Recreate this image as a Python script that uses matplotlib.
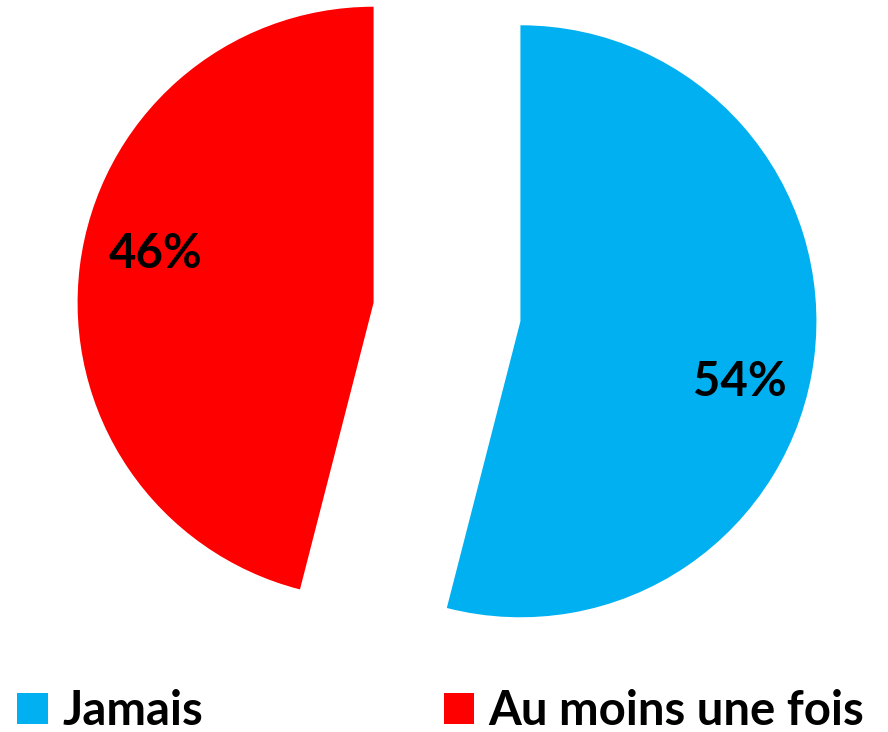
import matplotlib.pyplot as plt
from matplotlib.patches import Patch

labels = ["Jamais", "Au moins une fois"]
values = [54, 46]
colors = ["#00B0F0", "#FF0000"]

plt.rcParams['font.family'] = ['Lato', 'Open Sans', 'DejaVu Sans']

fig = plt.figure(figsize=(8.88, 7.32), dpi=100)
ax = fig.add_axes([0, 0, 1, 1])

# 1 data unit = pie radius in pixels
r_px = 296
cx, cy = 447, 732 - 312

wedges, texts, autotexts = ax.pie(
    values, colors=colors, startangle=90, counterclock=False,
    explode=[0.25, 0.25], autopct='%1.0f%%', pctdistance=0.77,
    radius=1, center=(0, 0), frame=False,
    textprops=dict(fontsize=34, fontweight='bold', color='black'))
ax.set_xlim(-cx / r_px, (888 - cx) / r_px)
ax.set_ylim(-cy / r_px, (732 - cy) / r_px)
ax.set_aspect('equal')
ax.axis('off')

# nudge labels a little, like the original layout
nudges = [(-0.024, -0.11), (0.027, 0.068)]
for t, (dx, dy) in zip(autotexts, nudges):
    x, y = t.get_position()
    t.set_position((x + dx, y + dy))

handles = [Patch(facecolor=c, edgecolor='none') for c in colors]
fig.legend(handles, labels, loc='lower left', bbox_to_anchor=(-0.002, -0.027),
           ncol=2, frameon=False,
           prop=dict(size=34, weight='bold'),
           handlelength=0.65, handleheight=0.65, handletextpad=0.3,
           columnspacing=5.1, borderaxespad=0.0)

fig.savefig("out.png", dpi=100)
